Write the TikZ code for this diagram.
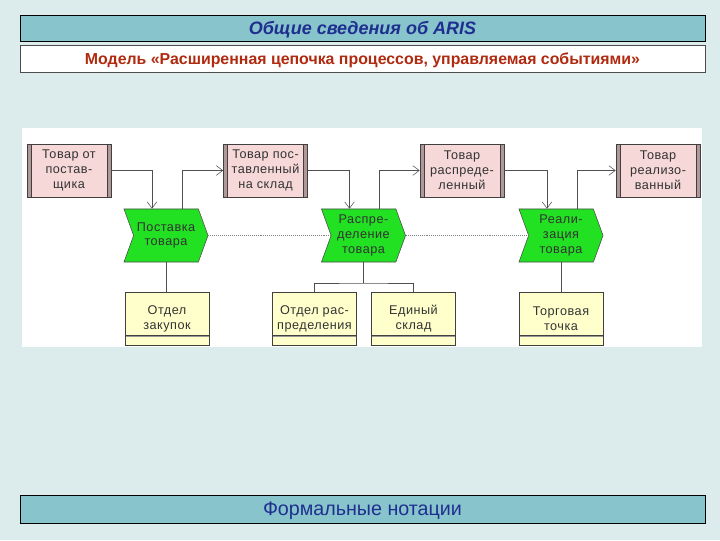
\documentclass[tikz,border=0pt]{standalone}
\usepackage{fontspec}
\setmainfont{Liberation Sans}
\usetikzlibrary{shapes.symbols,arrows.meta,calc}
\definecolor{bgcol}{HTML}{DCECEC}
\definecolor{barcol}{HTML}{88C4CC}
\definecolor{titleblue}{HTML}{1F2F8F}
\definecolor{titlered}{HTML}{B02A10}
\definecolor{evfill}{HTML}{F6D8D8}
\definecolor{evband}{HTML}{B09898}
\definecolor{fnfill}{HTML}{22E022}
\definecolor{orgfill}{HTML}{FFFFCC}
\definecolor{wire}{HTML}{505050}

\begin{document}
\begin{tikzpicture}[x=0.025cm, y=-0.025cm,
    every node/.style={font=\fontsize{9}{10.6}\selectfont\addfontfeature{LetterSpace=4}, align=center, text=black!80},
    bar/.style={draw=black, fill=barcol, minimum width=17.125cm, minimum height=0.65cm, inner sep=0pt, text depth=0pt},
    event/.style={draw=black!75, fill=evfill, minimum width=2.1cm, minimum height=1.325cm, inner sep=0pt,
      path picture={
        \fill[evband] (path picture bounding box.north west) rectangle ([xshift=1mm]path picture bounding box.south west);
        \fill[evband] (path picture bounding box.north east) rectangle ([xshift=-1mm]path picture bounding box.south east);
        \draw[black!75] ([xshift=1mm]path picture bounding box.north west) -- ([xshift=1mm]path picture bounding box.south west);
        \draw[black!75] ([xshift=-1mm]path picture bounding box.north east) -- ([xshift=-1mm]path picture bounding box.south east);}},
    func/.style={signal, signal to=east, signal from=west, signal pointer angle=140, draw=black!70, fill=fnfill,
      minimum width=2.1cm, minimum height=1.325cm, inner sep=0pt},
    orgunit/.style={draw=black!75, fill=orgfill, minimum width=2.1cm, minimum height=1.325cm, inner sep=0pt,
      path picture={
        \draw[black!75] ([yshift=2.5mm]path picture bounding box.south west) -- ([yshift=2.5mm]path picture bounding box.south east);
        \draw[black!40] ([yshift=2.2mm]path picture bounding box.south west) -- ([yshift=2.2mm]path picture bounding box.south east);}},
    flow/.style={wire, -{Straight Barb[length=1.6mm,width=2.4mm]}},
    link/.style={wire},
    dotlink/.style={gray, densely dotted}
  ]
  % background
  \fill[bgcol] (0,0) rectangle (720,540);
  \fill[white] (22,128) rectangle (702,347);
  % title bars
  \node[bar, font=\fontsize{12.8}{14}\selectfont\bfseries\itshape, text=titleblue] (title) at (362.5,28) {Общие сведения об ARIS};
  \node[bar, draw=black!70, fill=white, minimum height=0.675cm, font=\fontsize{11.3}{13}\selectfont\bfseries, text=titlered] (subtitle) at (362.5,58.5)
    {Модель «Расширенная цепочка процессов, управляемая событиями»};
  \node[bar, minimum height=0.7cm, font=\fontsize{14}{15}\selectfont, text=titleblue] (footer) at (362.5,509) {Формальные нотации};

  % events
  \node[event] (ev1) at (69,170.5) {Товар от\\постав-\\щика};
  \node[event] (ev2) at (265.5,170.5) {Товар пос-\\тавленный\\на склад};
  \node[event] (ev3) at (462,170.5) {Товар\\распреде-\\ленный};
  \node[event] (ev4) at (658,170.5) {Товар\\реализо-\\ванный};
  % functions
  \node[func] (fn1) at (166,235.5) {Поставка\\товара};
  \node[func] (fn2) at (363.5,235.5) {Распре-\\деление\\товара};
  \node[func] (fn3) at (561,235.5) {Реали-\\зация\\товара};
  % org units
  \node[orgunit] (org1) at (167,318.5) {Отдел\\закупок};
  \node[orgunit] (org2) at (314.5,318.5) {Отдел рас-\\пределения};
  \node[orgunit] (org3) at (413.5,318.5) {Единый\\склад};
  \node[orgunit] (org4) at (561,318.5) {Торговая\\точка};
  \coordinate (split) at (363.5,283);

  % event -> function -> event
  \draw[flow] (ev1.east) -| ($(fn1.north)+(-14,0)$);
  \draw[flow] ($(fn1.north)+(16,0)$) |- (ev2.west);
  \draw[flow] (ev2.east) -| ($(fn2.north)+(-14,0)$);
  \draw[flow] ($(fn2.north)+(16,0)$) |- (ev3.west);
  \draw[flow] (ev3.east) -| ($(fn3.north)+(-14,0)$);
  \draw[flow] ($(fn3.north)+(16,0)$) |- (ev4.west);
  % process path
  \draw[dotlink] (fn1.east) -- (fn2.west);
  \draw[dotlink] (fn2.east) -- (fn3.west);
  % org units
  \draw[link] (fn1.south) -- (fn1.south |- org1.north);
  \draw[link] (fn2.south) -- (split);
  \draw[link] (org2.north) |- (split) -| (org3.north);
  \draw[link] (fn3.south) -- (fn3.south |- org4.north);
\end{tikzpicture}
\end{document}
